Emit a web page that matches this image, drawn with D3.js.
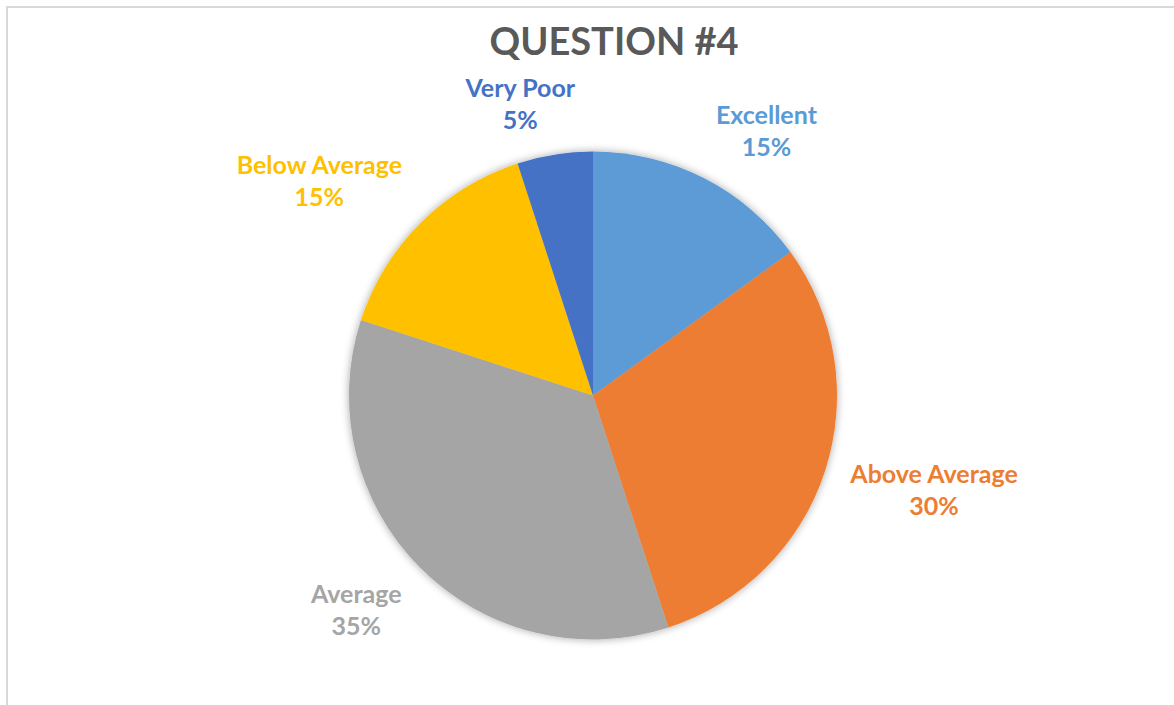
<!DOCTYPE html>
<html>
<head>
<meta charset="utf-8">
<script src="https://cdn.jsdelivr.net/npm/d3@7"></script>
<style>
  body { margin: 0; background: #fff; }
  text { font-family: Lato, "Open Sans", sans-serif; font-weight: bold; }
</style>
</head>
<body>
<div class="chart"></div>
<script>
// Question #4 pie chart

var categories = ['Excellent', 'Above Average', 'Average', 'Below Average', 'Very Poor']
var shares = [15, 30, 35, 15, 5]
var colors = ['#5b9bd5', '#ed7d31', '#a5a5a5', '#ffc000', '#4472c4']
var title = 'QUESTION #4'

var width = 1174
var height = 705
var cx = 593
var cy = 395.5
var radius = 244

var svg = d3.select('.chart')
  .append('svg')
  .attr('width', width)
  .attr('height', height)

// soft shadow round the pie
var defs = svg.append('defs')
var shadow = defs.append('filter')
  .attr('id', 'shadow')
  .attr('x', '-10%').attr('y', '-10%')
  .attr('width', '120%').attr('height', '120%')
shadow.append('feGaussianBlur')
  .attr('in', 'SourceAlpha')
  .attr('stdDeviation', 4)
  .attr('result', 'blur')
shadow.append('feComponentTransfer')
  .append('feFuncA').attr('type', 'linear').attr('slope', 0.35)
var merge = shadow.append('feMerge')
merge.append('feMergeNode')
merge.append('feMergeNode').attr('in', 'SourceGraphic')

// chart area border (only top and left show in the frame)
svg.append('rect')
  .attr('x', 7)
  .attr('y', 7)
  .attr('width', width + 20)
  .attr('height', height + 20)
  .attr('fill', 'none')
  .attr('stroke', '#d9d9d9')
  .attr('stroke-width', 2)

svg.append('text')
  .attr('x', 614)
  .attr('y', 55)
  .attr('text-anchor', 'middle')
  .attr('fill', '#595959')
  .attr('font-size', 38)
  .text(title)

var data = categories.map((c, i) => ({ name: c, value: shares[i], color: colors[i] }))

var pie = d3.pie()
  .sort(null)
  .value(d => d.value)

var arc = d3.arc()
  .innerRadius(0)
  .outerRadius(radius)

var g = svg.append('g')
  .attr('transform', 'translate(' + cx + ',' + cy + ')')

var arcs = pie(data)

g.append('g')
  .attr('filter', 'url(#shadow)')
  .selectAll('path')
  .data(arcs)
  .enter()
  .append('path')
  .attr('d', arc)
  .attr('fill', d => d.data.color)

// labels outside each slice, pushed away from the pie by their own box size
var labelR = radius + 26
var clamp = v => Math.max(-1, Math.min(1, v))

var labels = g.selectAll('.label')
  .data(arcs)
  .enter()
  .append('text')
  .attr('class', 'label')
  .attr('text-anchor', 'middle')
  .attr('font-size', 25)
  .attr('fill', d => d.data.color)

labels.append('tspan')
  .attr('x', 0)
  .attr('dy', 0)
  .text(d => d.data.name)
labels.append('tspan')
  .attr('x', 0)
  .attr('dy', 32)
  .text(d => d.data.value + '%')

labels.attr('transform', function(d) {
  var a = (d.startAngle + d.endAngle) / 2
  var s = Math.sin(a)
  var c = Math.cos(a)
  var halfW = this.getBBox().width / 2
  var halfH = 24
  var x = labelR * s + halfW * clamp(3.5 * s)
  var y = -labelR * c - halfH * clamp(1.4 * c)
  return 'translate(' + x + ',' + (y - 7.5 + 2 * (1 - Math.abs(c))) + ')'
})
</script>
</body>
</html>
